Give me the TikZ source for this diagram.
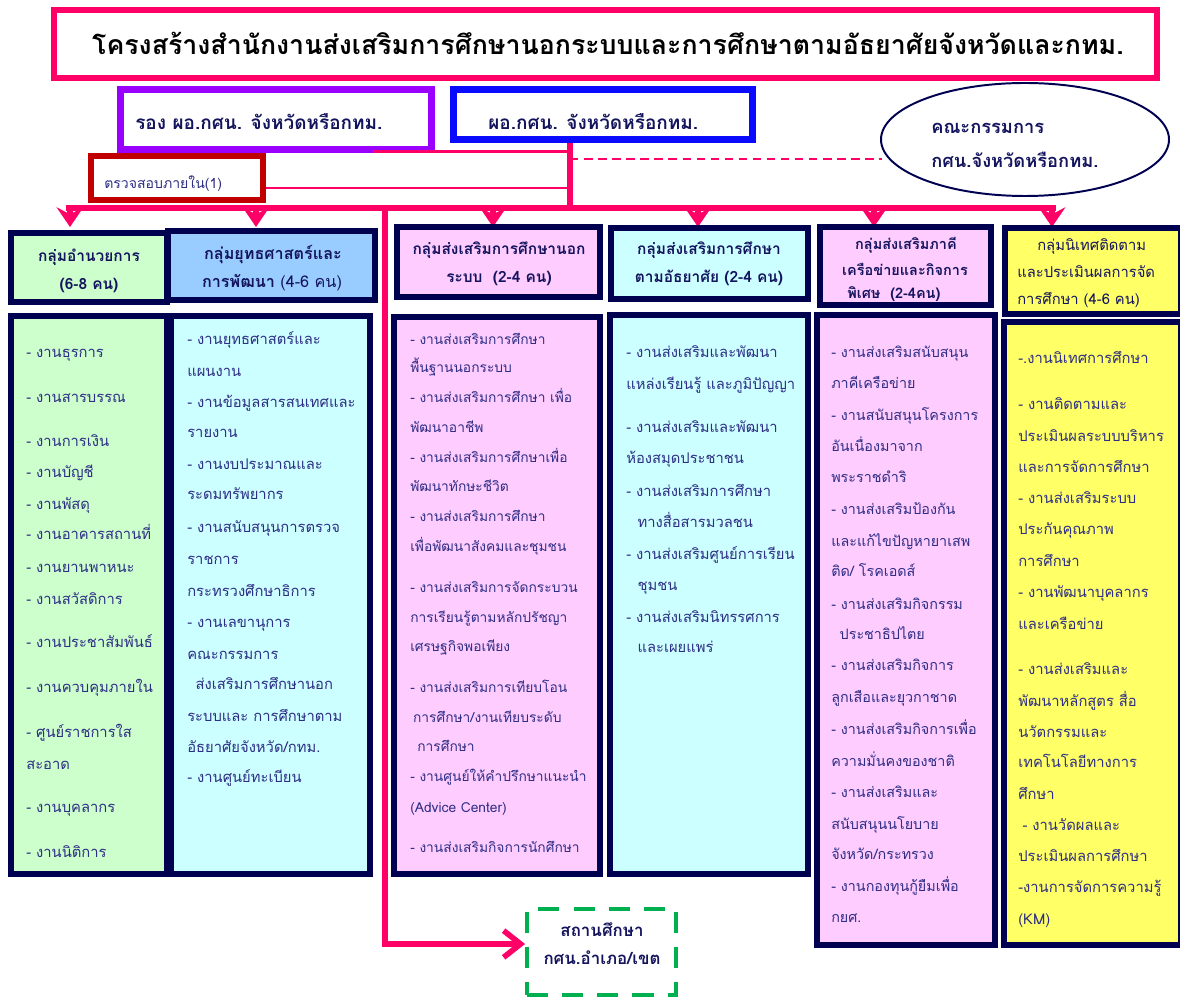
\documentclass[tikz,border=0pt]{standalone}
\usepackage{fontspec}
\setmainfont[Script=Thai]{Loma}
\usepackage{xcolor}
\usepackage{tikz}
\usetikzlibrary{calc,arrows.meta,shapes.geometric}
\definecolor{rose}{HTML}{FF0066}
\definecolor{vicecol}{HTML}{9900FF}
\definecolor{dircol}{HTML}{0A0AFF}
\definecolor{auditcol}{HTML}{C00000}
\definecolor{navy}{HTML}{000050}
\definecolor{ink}{HTML}{2E2E85}
\definecolor{inkdark}{HTML}{14145E}
\definecolor{grnfill}{HTML}{CCFFCC}
\definecolor{bluefill}{HTML}{99CCFF}
\definecolor{cyanfill}{HTML}{CCFFFF}
\definecolor{pinkfill}{HTML}{FFCCFF}
\definecolor{yelfill}{HTML}{FFFF66}
\definecolor{stagreen}{HTML}{00B050}
\newcommand{\pxu}{0.025cm}
\tikzset{
  wh/.style 2 args={minimum width=#1*\pxu, minimum height=#2*\pxu, inner sep=0pt},
  navybox/.style={draw=navy, line width=4.2pt},
  txt/.style={text=ink, font=\fontsize{10.5}{12}\selectfont, anchor=base west, yshift=-3.5pt, inner sep=0pt},
  hd/.style={text=inkdark, font=\bfseries\fontsize{11}{12}\selectfont, anchor=base, yshift=-3.5pt, inner sep=0pt},
  hdl/.style={hd, anchor=base west},
  headtxt/.style={hdl, font=\bfseries\fontsize{13.5}{14}\selectfont, yshift=-4.5pt},
  link/.style={draw=rose, line width=1.6pt},
  trunk/.style={draw=rose, line width=4pt},
  droparrow/.style={trunk, -{Stealth[length=14pt,width=19pt,inset=5pt]}},
}

\begin{document}
\begin{tikzpicture}[x=0.025cm, y=-0.025cm]
  \useasboundingbox (0,0) rectangle (1180,997);

  % title and heads
  \node[draw=rose, line width=4.3pt, wh={1103}{68}] (title) at (605.5,44) {};
  \node[text=black, font=\bfseries\fontsize{19}{22}\selectfont] (titleT) at (608,43)
    {โครงสร้างสำนักงานส่งเสริมการศึกษานอกระบบและการศึกษาตามอัธยาศัยจังหวัดและกทม.};
  \node[draw=vicecol, line width=5pt, wh={311}{60}] (vice) at (276,119.5) {};
  \node[draw=dircol, line width=5pt, wh={299}{50}] (dir) at (603,114.5) {};
  \node[ellipse, draw=navy, line width=1.4pt, wh={288}{113}] (comm) at (1025,139.5) {};
  \node[draw=auditcol, line width=4.3pt, wh={172}{44}] (audit) at (177,178) {};

  \node[headtxt] (viceT) at (135,118) {รอง ผอ.กศน. จังหวัดหรือกทม.};
  \node[headtxt] (dirT) at (488,118) {ผอ.กศน. จังหวัดหรือกทม.};
  \node[headtxt, font=\bfseries\fontsize{13}{14}\selectfont] (commT1) at (931,122) {คณะกรรมการ};
  \node[headtxt, font=\bfseries\fontsize{13}{14}\selectfont] (commT2) at (931,156) {กศน.จังหวัดหรือกทม.};
  \node[txt, font=\fontsize{10}{12}\selectfont] (auditT) at (104,184) {ตรวจสอบภายใน(1)};

  % links
  \coordinate (spine) at (570,208);
  \coordinate (barL) at (66,208);
  \coordinate (barR) at (1056,208);
  \coordinate (stem) at (385,208);
  \coordinate (dashend) at (882,159);
  \draw[link] ($(vice.south east)+(-62,-1.5)$) coordinate (vl) -- (vl -| spine);
  \draw[link] ($(audit.east)+(0,10)$) coordinate (al) -- (al -| spine);
  \draw[link, dash pattern=on 6pt off 4pt] (dashend -| spine) -- (dashend);
  \draw[trunk] (dir.south -| spine) -- (spine);
  \draw[trunk] (barL) -- (barR);
  \foreach \x [count=\i] in {70,256,493,698,874,1052}
    \coordinate (tip\i) at (\x,227);
  \foreach \i in {1,...,6}
    \draw[droparrow] (tip\i |- barL) -- (tip\i);

  % group headers
  \node[navybox, fill=grnfill, wh={156}{69}] (hdA) at (89,267.5) {};
  \node[navybox, fill=bluefill, wh={207}{69}] (hdB) at (271.5,265.5) {};
  \node[navybox, fill=pinkfill, wh={203}{70}] (hdC) at (498.5,262) {};
  \node[navybox, fill=cyanfill, wh={197}{71}] (hdD) at (709.5,263.5) {};
  \node[navybox, fill=pinkfill, wh={171}{78}] (hdE) at (905.5,266) {};
  \node[navybox, fill=yelfill, wh={176}{86}] (hdF) at (1093,271) {};

  \node[hd] (hdA1) at (89,257) {กลุ่มอำนวยการ};
  \node[hd] (hdA2) at (89,285) {(6-8 คน)};
  \node[hd, font=\bfseries\fontsize{11.5}{12}\selectfont] (hdB1) at (273,255) {กลุ่มยุทธศาสตร์และ};
  \node[hd, font=\fontsize{11.5}{12}\selectfont] (hdB2) at (272,283) {\textbf{การพัฒนา} (4-6 คน)};
  \node[hd] (hdC1) at (499,250) {กลุ่มส่งเสริมการศึกษานอก};
  \node[hd] (hdC2) at (499,278) {ระบบ\ \ (2-4 คน)};
  \node[hd] (hdD1) at (709,250) {กลุ่มส่งเสริมการศึกษา};
  \node[hd] (hdD2) at (709,278) {ตามอัธยาศัย (2-4 คน)};
  \node[hd, font=\bfseries\fontsize{10.3}{12}\selectfont] (hdE1) at (906,245) {กลุ่มส่งเสริมภาคี};
  \node[hd, font=\bfseries\fontsize{10.3}{12}\selectfont] (hdE2) at (905,271) {เครือข่ายและกิจการ};
  \node[hdl, font=\bfseries\fontsize{10.3}{12}\selectfont] (hdE3) at (847,294) {พิเศษ\ \ (2-4คน)};
  \node[txt, text=inkdark] (hdF1) at (1037,246) {กลุ่มนิเทศติดตาม};
  \node[txt, text=inkdark] (hdF2) at (1017,273) {และประเมินผลการจัด};
  \node[txt, text=inkdark] (hdF3) at (1017,300) {การศึกษา (4-6 คน)};

  % task lists
  \node[navybox, fill=grnfill, wh={156}{558}] (bodyA) at (89,595) {};
  \node[navybox, fill=cyanfill, wh={199}{558}] (bodyB) at (270.5,595) {};
  \node[navybox, fill=pinkfill, wh={206}{557}] (bodyC) at (497,595.5) {};
  \node[navybox, fill=cyanfill, wh={198}{559}] (bodyD) at (709,594.5) {};
  \node[navybox, fill=pinkfill, wh={178}{630}] (bodyE) at (906,630) {};
  \node[navybox, fill=yelfill, wh={177}{623}] (bodyF) at (1092.5,633.5) {};

  \foreach \y/\t [count=\i] in {353/{- งานธุรการ}, 398/{- งานสารบรรณ}, 442/{- งานการเงิน},
      473/{- งานบัญชี}, 505/{- งานพัสดุ}, 535/{- งานอาคารสถานที่}, 568/{- งานยานพาหนะ},
      600/{- งานสวัสดิการ}, 643/{- งานประชาสัมพันธ์}, 688/{- งานควบคุมภายใน},
      733/{- ศูนย์ราชการใส}, 765/{สะอาด}, 808/{- งานบุคลากร}, 853/{- งานนิติการ}}
    \node[txt] (listA-\i) at (26,\y) {\t};

  \foreach \y/\t [count=\i] in {340/{- งานยุทธศาสตร์และ}, 372/{แผนงาน},
      403/{- งานข้อมูลสารสนเทศและ}, 433/{รายงาน}, 465/{- งานงบประมาณและ},
      495/{ระดมทรัพยากร}, 528/{- งานสนับสนุนการตรวจ}, 560/{ราชการ},
      592/{กระทรวงศึกษาธิการ}, 623/{- งานเลขานุการ}, 655/{คณะกรรมการ},
      685/{\hspace*{6pt}ส่งเสริมการศึกษานอก}, 717/{ระบบและ การศึกษาตาม},
      748/{อัธยาศัยจังหวัด/กทม.}, 778/{- งานศูนย์ทะเบียน}}
    \node[txt] (listB-\i) at (187,\y) {\t};

  \foreach \y/\t [count=\i] in {340/{- งานส่งเสริมการศึกษา}, 368/{พื้นฐานนอกระบบ},
      398/{- งานส่งเสริมการศึกษา เพื่อ}, 428/{พัฒนาอาชีพ},
      458/{- งานส่งเสริมการศึกษาเพื่อ}, 487/{พัฒนาทักษะชีวิต},
      517/{- งานส่งเสริมการศึกษา}, 547/{เพื่อพัฒนาสังคมและชุมชน},
      588/{- งานส่งเสริมการจัดกระบวน}, 618/{การเรียนรู้ตามหลักปรัชญา},
      647/{เศรษฐกิจพอเพียง}, 688/{- งานส่งเสริมการเทียบโอน},
      718/{\hspace*{2pt}การศึกษา/งานเทียบระดับ}, 747/{\hspace*{5pt}การศึกษา},
      777/{- งานศูนย์ให้คำปรึกษาแนะนำ}, 808/{(Advice Center)},
      848/{- งานส่งเสริมกิจการนักศึกษา}}
    \node[txt, font=\fontsize{9.8}{12}\selectfont] (listC-\i) at (410,\y) {\t};

  \foreach \y/\t [count=\i] in {353/{- งานส่งเสริมและพัฒนา}, 385/{แหล่งเรียนรู้ และภูมิปัญญา},
      428/{- งานส่งเสริมและพัฒนา}, 459/{ห้องสมุดประชาชน},
      492/{- งานส่งเสริมการศึกษา}, 523/{\hspace*{8pt}ทางสื่อสารมวลชน},
      555/{- งานส่งเสริมศูนย์การเรียน}, 586/{\hspace*{8pt}ชุมชน},
      618/{- งานส่งเสริมนิทรรศการ}, 648/{\hspace*{8pt}และเผยแพร่}}
    \node[txt] (listD-\i) at (626,\y) {\t};

  \foreach \y/\t [count=\i] in {353/{- งานส่งเสริมสนับสนุน}, 384/{ภาคีเครือข่าย},
      416/{- งานสนับสนุนโครงการ}, 447/{อันเนื่องมาจาก}, 478/{พระราชดำริ},
      510/{- งานส่งเสริมป้องกัน}, 542/{และแก้ไขปัญหายาเสพ}, 572/{ติด/ โรคเอดส์},
      605/{- งานส่งเสริมกิจกรรม}, 635/{\hspace*{6pt}ประชาธิปไตย},
      666/{- งานส่งเสริมกิจการ}, 698/{ลูกเสือและยุวกาชาด},
      730/{- งานส่งเสริมกิจการเพื่อ}, 762/{ความมั่นคงของชาติ},
      793/{- งานส่งเสริมและ}, 825/{สนับสนุนนโยบาย}, 855/{จังหวัด/กระทรวง},
      887/{- งานกองทุนกู้ยืมเพื่อ}, 918/{กยศ.}}
    \node[txt, font=\fontsize{10.2}{12}\selectfont] (listE-\i) at (831,\y) {\t};

  \foreach \y/\t [count=\i] in {359/{-.งานนิเทศการศึกษา}, 405/{- งานติดตามและ},
      437/{ประเมินผลระบบบริหาร}, 468/{และการจัดการศึกษา}, 499/{- งานส่งเสริมระบบ},
      530/{ประกันคุณภาพ}, 562/{การศึกษา}, 593/{- งานพัฒนาบุคลากร},
      625/{และเครือข่าย}, 670/{- งานส่งเสริมและ}, 702/{พัฒนาหลักสูตร สื่อ},
      733/{นวัตกรรมและ}, 763/{เทคโนโลยีทางการ}, 795/{ศึกษา},
      826/{\hspace*{3pt}- งานวัดผลและ}, 857/{ประเมินผลการศึกษา},
      888/{-งานการจัดการความรู้}, 920/{(KM)}}
    \node[txt] (listF-\i) at (1018,\y) {\t};

  % district units
  \node[draw=stagreen, line width=2.8pt, dash pattern=on 15pt off 10pt, wh={149}{86}] (station) at (601.5,952) {};
  \node[hd, font=\bfseries\fontsize{12}{14}\selectfont] (stationT1) at (602,932) {สถานศึกษา};
  \node[hd, font=\bfseries\fontsize{12}{14}\selectfont] (stationT2) at (602,960) {กศน.อำเภอ/เขต};
  \draw[trunk, -{Straight Barb[length=12pt,width=19pt]}] (stem) |- ($(station.west)+(0,-8)$);
\end{tikzpicture}
\end{document}
